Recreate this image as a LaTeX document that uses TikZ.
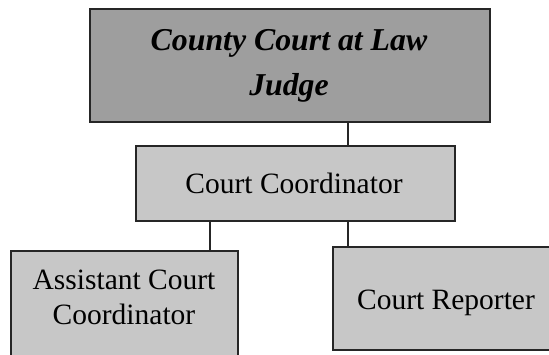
\documentclass[tikz,border=0pt]{standalone}
\usepackage{fontspec}
\setmainfont{Liberation Serif}
\begin{document}
\begin{tikzpicture}[x=1pt,y=-1pt,
  box/.style={draw=black!85,line width=2pt,inner sep=0pt,anchor=north west},
  dark/.style={box,fill=black!38},
  light/.style={box,fill=black!22},
  lbl/.style={anchor=base,inner sep=0pt,font=\fontsize{29.5}{35}\selectfont},
  conn/.style={draw=black!85,line width=2pt}]
\useasboundingbox (0,0) rectangle (549,355);
\node[dark,minimum width=400pt,minimum height=113pt] (judge) at (89,8) {};
\node[light,minimum width=319pt,minimum height=75pt] (coord) at (135,145) {};
\node[light,minimum width=227pt,minimum height=130pt] (asst) at (10,250) {};
\node[light,minimum width=240pt,minimum height=103pt] (rep) at (332,246) {};
\node[lbl,font=\fontsize{31.8}{35}\selectfont\bfseries\itshape] (t1) at (289,51) {County Court at Law};
\node[lbl,font=\fontsize{31.8}{35}\selectfont\bfseries\itshape] (t2) at (289,96) {Judge};
\node[lbl] (t3) at (294,194) {Court Coordinator};
\node[lbl] (t4) at (124,290) {Assistant Court};
\node[lbl] (t5) at (124,325) {Coordinator};
\node[lbl] (t6) at (446,310) {Court Reporter};
\coordinate (c1) at (348,0);
\coordinate (c2) at (210,0);
\draw[conn] (judge.south -| c1) -- (coord.north -| c1);
\draw[conn] (coord.south -| c2) -- (asst.north -| c2);
\draw[conn] (coord.south -| c1) -- (rep.north -| c1);
\end{tikzpicture}
\end{document}
